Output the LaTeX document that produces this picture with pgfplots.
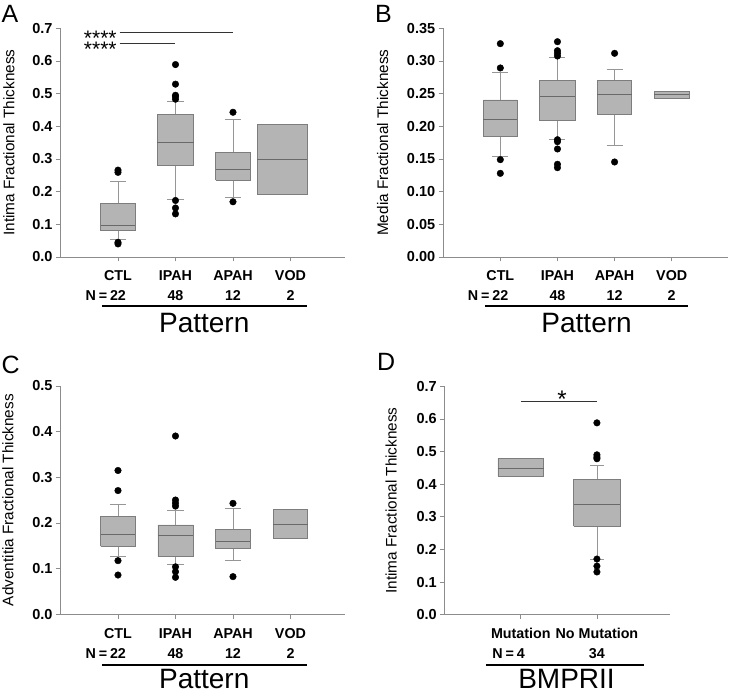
\documentclass[border=0pt]{standalone}
\usepackage{fontspec}
\setmainfont{Liberation Sans}
\usepackage{pgfplots}
\pgfplotsset{compat=1.18}
\definecolor{boxfill}{RGB}{180,180,180}
\definecolor{boxline}{RGB}{125,125,125}
\definecolor{medline}{RGB}{105,105,105}
\definecolor{whisk}{RGB}{150,150,150}
\definecolor{axgray}{RGB}{140,140,140}
\newcommand\tickfont{\fontsize{14.5bp}{17bp}\selectfont\bfseries}
\newcommand\catfont{\fontsize{14.3bp}{17bp}\selectfont\bfseries}
\newcommand\labfont{\fontsize{15.3bp}{18bp}\selectfont}
\newcommand\titlefont{\fontsize{28bp}{32bp}\selectfont}
\newcommand\letterfont{\fontsize{25bp}{30bp}\selectfont}
\pgfplotsset{
  panel/.style={
    scale only axis, anchor=south west,
    axis x line=bottom, axis y line=left,
    axis line style={-, draw=axgray, line width=0.8bp},
    tick style={draw=axgray, line width=0.8bp},
    tick align=outside, major tick length=4.5bp,
    xmin=0, ymin=0, xtick={1,2,3,4}, xticklabels={},
    clip=false,
    /pgf/number format/assume math mode=true,
    yticklabel style={font=\tickfont, /pgf/number format/.cd, fixed, fixed zerofill, precision=#1},
    ylabel style={font=\labfont, anchor=center},
  },
}
% #1 x, #2 box half width, #3 lower whisker, #4 lower quartile, #5 median,
% #6 upper quartile, #7 upper whisker, #8 cap half width
\newcommand\boxp[8]{%
  \pgfmathsetmacro\xl{#1-#2}\pgfmathsetmacro\xr{#1+#2}%
  \pgfmathsetmacro\cl{#1-#8}\pgfmathsetmacro\cr{#1+#8}%
  \addplot[whisk, line width=0.8bp] coordinates {(#1,#6) (#1,#7)};
  \addplot[whisk, line width=0.8bp] coordinates {(#1,#3) (#1,#4)};
  \addplot[whisk, line width=0.8bp] coordinates {(\cl,#7) (\cr,#7)};
  \addplot[whisk, line width=0.8bp] coordinates {(\cl,#3) (\cr,#3)};
  \addplot[fill=boxfill, draw=boxline, line width=0.8bp] coordinates {(\xl,#4) (\xr,#4) (\xr,#6) (\xl,#6) (\xl,#4)};
  \addplot[medline, line width=0.9bp] coordinates {(\xl,#5) (\xr,#5)};
}
\pgfplotsset{outl/.style={only marks, mark=*, mark size=3.3bp, black, mark options={fill=black, draw=black}}}
\begin{document}
\begin{tikzpicture}
\useasboundingbox (0,0) rectangle (730bp,694bp);
% ---------------- Panel A ----------------
\begin{axis}[panel=1, at={(60.5bp,437bp)}, width=284.6bp, height=228.7bp,
  xmax=4.95, ymax=0.7, ytick={0,0.1,0.2,0.3,0.4,0.5,0.6,0.7},
  ylabel={Intima Fractional Thickness},
  ylabel style={at={(axis description cs:-0.181,0.5)}}]
\boxp{1}{0.3}{0.055}{0.08}{0.098}{0.165}{0.23}{0.14}
\boxp{2}{0.315}{0.176}{0.279}{0.35}{0.437}{0.475}{0.14}
\boxp{3}{0.3}{0.183}{0.235}{0.268}{0.32}{0.421}{0.14}
\boxp{3.86}{0.435}{0.192}{0.192}{0.299}{0.407}{0.407}{0.0}
\addplot[outl] coordinates {(1,0.266) (1,0.259) (1,0.045) (1,0.040)
  (2,0.589) (2,0.529) (2,0.495) (2,0.491) (2,0.483) (2,0.173) (2,0.15) (2,0.132)
  (3,0.443) (3,0.169)};
\draw[black!80, line width=0.7bp] (axis cs:1.03,0.688) -- (axis cs:3.0,0.688);
\draw[black!80, line width=0.7bp] (axis cs:1.03,0.654) -- (axis cs:2.0,0.654);
\node[font=\fontsize{21bp}{24bp}\selectfont, anchor=base east, inner sep=0pt] at ([yshift=-13.5bp]axis cs:0.98,0.688) {****};
\node[font=\fontsize{21bp}{24bp}\selectfont, anchor=base east, inner sep=0pt] at ([yshift=-13.5bp]axis cs:0.98,0.654) {****};
\node[font=\catfont, anchor=base] at ([yshift=-24bp]axis cs:1,0) {CTL};
\node[font=\catfont, anchor=base] at ([yshift=-24bp]axis cs:2,0) {IPAH};
\node[font=\catfont, anchor=base] at ([yshift=-24bp]axis cs:3,0) {APAH};
\node[font=\catfont, anchor=base] at ([yshift=-24bp]axis cs:4,0) {VOD};
\node[font=\catfont, anchor=base] at ([yshift=-43.5bp]axis cs:1,0) {\llap{N\hspace{0.2em}=\hspace{0.2em}}22};
\node[font=\catfont, anchor=base] at ([yshift=-43.5bp]axis cs:2,0) {48};
\node[font=\catfont, anchor=base] at ([yshift=-43.5bp]axis cs:3,0) {12};
\node[font=\catfont, anchor=base] at ([yshift=-43.5bp]axis cs:4,0) {2};
\draw[black, line width=2bp] ([yshift=-49.5bp]axis cs:0.72,0) -- ([yshift=-49.5bp]axis cs:4.28,0);
\node[font=\titlefont, anchor=base] at ([yshift=-76bp]axis cs:2.5,0) {Pattern};
\end{axis}
% ---------------- Panel B ----------------
\begin{axis}[panel=2, at={(443.2bp,437bp)}, width=284.5bp, height=228.7bp,
  xmax=4.98, ymax=0.35, ytick={0,0.05,0.10,0.15,0.20,0.25,0.30,0.35},
  ylabel={Media Fractional Thickness},
  ylabel style={at={(axis description cs:-0.213,0.5)}}]
\boxp{1}{0.3}{0.1546}{0.1852}{0.2112}{0.2403}{0.2832}{0.14}
\boxp{2}{0.31}{0.1806}{0.2086}{0.2453}{0.2698}{0.3056}{0.14}
\boxp{3}{0.3}{0.1704}{0.2184}{0.2485}{0.2704}{0.2867}{0.14}
\boxp{4}{0.31}{0.2429}{0.2429}{0.248}{0.254}{0.254}{0.0}
\addplot[outl] coordinates {(1,0.3265) (1,0.2893) (1,0.149) (1,0.128)
  (2,0.3295) (2,0.3157) (2,0.3118) (2,0.3076) (2,0.1795) (2,0.1765) (2,0.1653) (2,0.1419) (2,0.1367)
  (3,0.3117) (3,0.1454)};
\node[font=\catfont, anchor=base] at ([yshift=-24bp]axis cs:1,0) {CTL};
\node[font=\catfont, anchor=base] at ([yshift=-24bp]axis cs:2,0) {IPAH};
\node[font=\catfont, anchor=base] at ([yshift=-24bp]axis cs:3,0) {APAH};
\node[font=\catfont, anchor=base] at ([yshift=-24bp]axis cs:4,0) {VOD};
\node[font=\catfont, anchor=base] at ([yshift=-43.5bp]axis cs:1,0) {\llap{N\hspace{0.2em}=\hspace{0.2em}}22};
\node[font=\catfont, anchor=base] at ([yshift=-43.5bp]axis cs:2,0) {48};
\node[font=\catfont, anchor=base] at ([yshift=-43.5bp]axis cs:3,0) {12};
\node[font=\catfont, anchor=base] at ([yshift=-43.5bp]axis cs:4,0) {2};
\draw[black, line width=2bp] ([yshift=-49.5bp]axis cs:0.73,0) -- ([yshift=-49.5bp]axis cs:4.29,0);
\node[font=\titlefont, anchor=base] at ([yshift=-76bp]axis cs:2.51,0) {Pattern};
\end{axis}
% ---------------- Panel C ----------------
\begin{axis}[panel=1, at={(60.5bp,79.7bp)}, width=284.6bp, height=228.3bp,
  xmax=4.95, ymax=0.5, ytick={0,0.1,0.2,0.3,0.4,0.5},
  ylabel={Adventitia Fractional Thickness},
  ylabel style={at={(axis description cs:-0.1845,0.5)}}]
\boxp{1}{0.3}{0.127}{0.149}{0.175}{0.2139}{0.241}{0.14}
\boxp{2}{0.305}{0.110}{0.1262}{0.173}{0.1956}{0.2284}{0.14}
\boxp{3}{0.3}{0.1175}{0.144}{0.1606}{0.185}{0.232}{0.14}
\boxp{4}{0.3}{0.1664}{0.1664}{0.1978}{0.23}{0.23}{0.0}
\addplot[outl] coordinates {(1,0.315) (1,0.271) (1,0.1175) (1,0.086)
  (2,0.3905) (2,0.2503) (2,0.2435) (2,0.237) (2,0.104) (2,0.0933) (2,0.081)
  (3,0.243) (3,0.0825)};
\node[font=\catfont, anchor=base] at ([yshift=-24bp]axis cs:1,0) {CTL};
\node[font=\catfont, anchor=base] at ([yshift=-24bp]axis cs:2,0) {IPAH};
\node[font=\catfont, anchor=base] at ([yshift=-24bp]axis cs:3,0) {APAH};
\node[font=\catfont, anchor=base] at ([yshift=-24bp]axis cs:4,0) {VOD};
\node[font=\catfont, anchor=base] at ([yshift=-44bp]axis cs:1,0) {\llap{N\hspace{0.2em}=\hspace{0.2em}}22};
\node[font=\catfont, anchor=base] at ([yshift=-44bp]axis cs:2,0) {48};
\node[font=\catfont, anchor=base] at ([yshift=-44bp]axis cs:3,0) {12};
\node[font=\catfont, anchor=base] at ([yshift=-44bp]axis cs:4,0) {2};
\draw[black, line width=2bp] ([yshift=-50.5bp]axis cs:0.72,0) -- ([yshift=-50.5bp]axis cs:4.28,0);
\node[font=\titlefont, anchor=base] at ([yshift=-74.5bp]axis cs:2.5,0) {Pattern};
\end{axis}
% ---------------- Panel D ----------------
\begin{axis}[panel=1, at={(444.7bp,79.3bp)}, width=225.3bp, height=228.4bp,
  xmax=2.96, ymax=0.7, xtick={1,2}, ytick={0,0.1,0.2,0.3,0.4,0.5,0.6,0.7},
  ylabel={Intima Fractional Thickness},
  ylabel style={at={(axis description cs:-0.238,0.5)}}]
\boxp{1}{0.3}{0.424}{0.424}{0.449}{0.480}{0.480}{0.0}
\boxp{2}{0.305}{0.1706}{0.2717}{0.339}{0.4147}{0.4576}{0.09}
\addplot[outl] coordinates {(2,0.588) (2,0.49) (2,0.483) (2,0.478) (2,0.1706) (2,0.149) (2,0.131)};
\draw[black!80, line width=0.7bp] (axis cs:1,0.655) -- (axis cs:2,0.655);
\node[font=\fontsize{24bp}{28bp}\selectfont, anchor=base, inner sep=0pt] at ([yshift=-7bp]axis cs:1.54,0.655) {*};
\node[font=\catfont, anchor=base] at ([yshift=-24bp]axis cs:1,0) {Mutation};
\node[font=\catfont, anchor=base] at ([yshift=-24bp]axis cs:2,0) {No Mutation};
\node[font=\catfont, anchor=base] at ([yshift=-44bp]axis cs:1,0) {\llap{N\hspace{0.2em}=\hspace{0.2em}}4};
\node[font=\catfont, anchor=base] at ([yshift=-44bp]axis cs:2,0) {34};
\draw[black, line width=2bp] ([yshift=-50.3bp]axis cs:0.54,0) -- ([yshift=-50.3bp]axis cs:2.62,0);
\node[font=\titlefont, anchor=base] at ([yshift=-73.5bp]axis cs:1.6,0) {BMPRII};
\end{axis}
% panel letters
\node[font=\letterfont, anchor=base west, inner sep=0pt] at (1.5bp,671bp) {A};
\node[font=\letterfont, anchor=base west, inner sep=0pt] at (375bp,671bp) {B};
\node[font=\letterfont, anchor=base west, inner sep=0pt] at (1.5bp,320bp) {C};
\node[font=\letterfont, anchor=base west, inner sep=0pt] at (377bp,323bp) {D};
\end{tikzpicture}
\end{document}
